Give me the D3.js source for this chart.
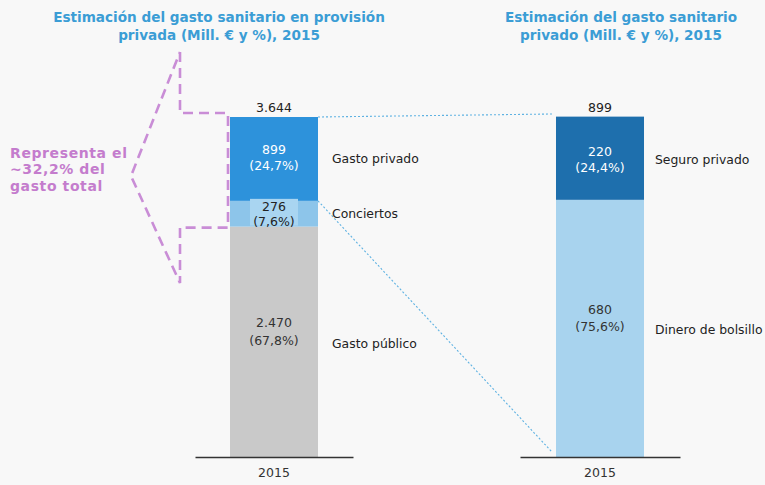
<!DOCTYPE html>
<html><head><meta charset="utf-8">
<script src="https://cdn.jsdelivr.net/npm/d3@7"></script>
<style>
html,body{margin:0;padding:0;background:#f8f8f8;}
svg{display:block;font-family:"DejaVu Sans",Verdana,sans-serif;}
</style></head><body>
<svg id="c" width="765" height="485"></svg>
<script>
// ---- data ----
const years = ["2015"];
const leftCategories = ["Gasto público", "Conciertos", "Gasto privado"];
const leftValues = [2470, 276, 899];
const leftPercents = ["67,8%", "7,6%", "24,7%"];
const leftValueLabels = ["2.470", "276", "899"];
const leftTotalLabel = "3.644";
const rightCategories = ["Dinero de bolsillo", "Seguro privado"];
const rightValues = [680, 220];
const rightPercents = ["75,6%", "24,4%"];
const rightValueLabels = ["680", "220"];
const rightTotal = 899;
const rightTotalLabel = "899";
const leftTitle = ["Estimación del gasto sanitario en provisión", "privada (Mill. € y %), 2015"];
const rightTitle = ["Estimación del gasto sanitario", "privado (Mill. € y %), 2015"];
const noteLines = ["Representa el", "~32,2% del", "gasto total"];

const leftColors = ["#c9c9c9", "#8dc5ea", "#2d92db"];
const rightColors = ["#a8d3ee", "#1e6fad"];
const leftText = ["#333", "#222", "#fff"];
const rightText = ["#333", "#fff"];

const svg = d3.select("#c");
const leftTotal = d3.sum(leftValues);

const yL = d3.scaleLinear().domain([0, leftTotal]).range([457, 117]);
const yR = d3.scaleLinear().domain([0, rightTotal]).range([457, 117]);
const xL = d3.scaleBand().domain(years).range([195, 353]).paddingInner(0).paddingOuter(0.3977);
const xR = d3.scaleBand().domain(years).range([520, 680]).paddingInner(0).paddingOuter(0.409);

function stack(vals){ let c=0; return vals.map(v=>{const s={y0:c,y1:c+v}; c+=v; return s;}); }
const sL = stack(leftValues), sR = stack(rightValues);

// titles
const titleG = svg.append("g").attr("fill","#3b9dd5").attr("font-weight","bold").attr("font-size","13.6px").attr("text-anchor","middle");
leftTitle.forEach((t,i)=>titleG.append("text").attr("x",219).attr("y",22+i*18).text(t));
rightTitle.forEach((t,i)=>titleG.append("text").attr("x",621).attr("y",22+i*18).text(t));

// connectors (dotted)
const bx0 = xL("2015"), bx1 = xL("2015")+xL.bandwidth();
const rx0 = xR("2015");
const conn = svg.append("g").attr("stroke","#5fb2e2").attr("stroke-width",1.1).attr("stroke-dasharray","2,2").attr("fill","none");
conn.append("line").attr("x1",bx1).attr("y1",yL(leftTotal)).attr("x2",rx0-3).attr("y2",yR(rightTotal)-3);
conn.append("line").attr("x1",bx1).attr("y1",yL(sL[1].y1)).attr("x2",rx0-4).attr("y2",yR(0)-5);

// left bars
svg.append("g").selectAll("rect").data(leftValues).join("rect")
  .attr("x",bx0).attr("width",xL.bandwidth())
  .attr("y",(d,i)=>yL(sL[i].y1)).attr("height",(d,i)=>yL(sL[i].y0)-yL(sL[i].y1))
  .attr("fill",(d,i)=>leftColors[i]);
// right bars
svg.append("g").selectAll("rect").data(rightValues).join("rect")
  .attr("x",rx0).attr("width",xR.bandwidth())
  .attr("y",(d,i)=>yR(sR[i].y1)).attr("height",(d,i)=>yR(sR[i].y0)-yR(sR[i].y1))
  .attr("fill",(d,i)=>rightColors[i]);

// label background box for conciertos
svg.append("rect").attr("x",bx0+20).attr("width",xL.bandwidth()-40)
  .attr("y",yL(sL[1].y1)-2).attr("height",yL(sL[1].y0)-yL(sL[1].y1)+1)
  .attr("fill","#a9d5f1");

// purple annotation
const topY = yL(leftTotal)-4, botY = yL(sL[0].y1)+1;
const px = 180, tipX = 131, tipY = 176;
svg.append("path")
  .attr("d", d3.line()([[px,52],[px,topY],[bx0-2,topY],[bx0-2,botY],[px,botY],[px,283],[tipX,tipY],[px,52]]))
  .attr("fill","none").attr("stroke","#c98dd6").attr("stroke-width",2.6).attr("stroke-dasharray","10,6");
const backing = svg.append("rect").attr("fill","#f8f8f8");
const note = svg.append("g").attr("fill","#c47ccd").attr("font-weight","bold").attr("font-size","14px").attr("letter-spacing","0.6px");
noteLines.forEach((t,i)=>{
  note.append("text").attr("x",10).attr("y",158+i*16.4).text(t);
});
const bb = note.node().getBBox();
backing.attr("x",bb.x).attr("y",bb.y+3).attr("width",bb.width+1).attr("height",bb.height-6);

// value labels
const lab = svg.append("g").attr("font-size","12.5px").attr("text-anchor","middle");
const lOff = [[-19,-1],[-7,8],[-9,7]];
leftValues.forEach((v,i)=>{
  const m = (yL(sL[i].y0)+yL(sL[i].y1))/2;
  const cx = bx0+xL.bandwidth()/2;
  lab.append("text").attr("x",cx).attr("y",m+lOff[i][0]+4).attr("fill",leftText[i]).text(leftValueLabels[i]);
  lab.append("text").attr("x",cx).attr("y",m+lOff[i][1]+4).attr("fill",leftText[i]).text("("+leftPercents[i]+")");
});
const rOff = [[-18,-1],[-6,10]];
rightValues.forEach((v,i)=>{
  const m = (yR(sR[i].y0)+yR(sR[i].y1))/2;
  const cx = rx0+xR.bandwidth()/2;
  lab.append("text").attr("x",cx).attr("y",m+rOff[i][0]+4).attr("fill",rightText[i]).text(rightValueLabels[i]);
  lab.append("text").attr("x",cx).attr("y",m+rOff[i][1]+4).attr("fill",rightText[i]).text("("+rightPercents[i]+")");
});
lab.append("text").attr("x",bx0+xL.bandwidth()/2).attr("y",yL(leftTotal)-5).attr("fill","#222").text(leftTotalLabel);
lab.append("text").attr("x",rx0+xR.bandwidth()/2).attr("y",yR(rightTotal)-5).attr("fill","#222").text(rightTotalLabel);

// category labels
const cat = svg.append("g").attr("font-size","12.4px").attr("fill","#222");
leftCategories.forEach((c,i)=>{
  const m = (yL(sL[i].y0)+yL(sL[i].y1))/2;
  const y = i===0 ? m+6 : m+4;
  cat.append("text").attr("x",bx1+14).attr("y",y).text(c);
});
rightCategories.forEach((c,i)=>{
  const m = (yR(sR[i].y0)+yR(sR[i].y1))/2;
  cat.append("text").attr("x",rx0+xR.bandwidth()+11).attr("y",m+6).text(c);
});

// axes
[xL, xR].forEach(x=>{
  const g = svg.append("g").attr("transform","translate(0,457)")
    .call(d3.axisBottom(x).tickSize(0).tickPadding(11));
  g.select(".domain").attr("stroke","#333").attr("stroke-width",1.3);
  g.selectAll("text").attr("font-size","12.5px").attr("fill","#333").attr("font-family","DejaVu Sans, Verdana, sans-serif");
});
</script>
</body></html>
